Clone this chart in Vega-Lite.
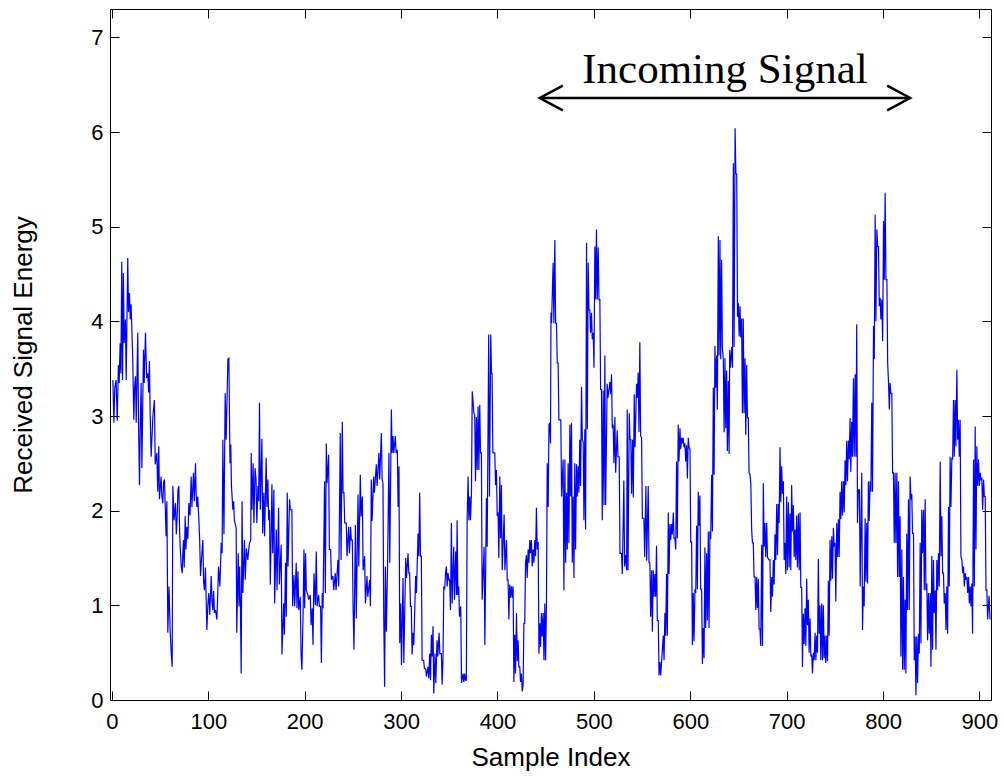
{
"$schema": "https://vega.github.io/schema/vega-lite/v6.json",
"width": 881, "height": 691,
"autosize": "none",
"padding": {"left": 110, "top": 9, "right": 13, "bottom": 76},
"background": "white",
"config": {
 "view": {"stroke": "#000000", "strokeWidth": 1},
 "axis": {"domain": false, "grid": false, "tickColor": "#000000", "tickSize": -9, "tickWidth": 1,
  "labelFont": "Liberation Sans", "labelFontSize": 22, "labelColor": "#000000",
  "titleFont": "Liberation Sans", "titleFontSize": 26, "titleFontWeight": "normal", "titleColor": "#000000"}
},
"datasets": {
 "sig": [
{"sample":1,"energy":3.38},{"sample":2,"energy":2.93},{"sample":3,"energy":3.3},{"sample":4.3,"energy":3.38},{"sample":5.5,"energy":2.95},{"sample":6.7,"energy":3.54},{"sample":7.5,"energy":3.35},{"sample":8.5,"energy":3.77},{"sample":9.3,"energy":3.45},{"sample":10.2,"energy":4.63},{"sample":11,"energy":3.38},{"sample":11.9,"energy":4.51},{"sample":12.7,"energy":3.77},{"sample":14,"energy":4.02},{"sample":14.8,"energy":3.38},{"sample":16.4,"energy":4.67},{"sample":17.2,"energy":4.1},{"sample":18.2,"energy":4.3},{"sample":19,"energy":4.02},{"sample":19.9,"energy":4.18},{"sample":21.6,"energy":3.6},{"sample":22.7,"energy":2.96},{"sample":23.5,"energy":3.3},{"sample":24.4,"energy":3.42},{"sample":25.2,"energy":2.93},{"sample":26.8,"energy":3.88},{"sample":27.6,"energy":2.93},{"sample":28.6,"energy":2.27},{"sample":29.4,"energy":2.9},{"sample":30.3,"energy":3.35},{"sample":31.1,"energy":2.45},{"sample":32.7,"energy":3.7},{"sample":33.5,"energy":3.35},{"sample":34.8,"energy":3.88},{"sample":36,"energy":3.4},{"sample":37.2,"energy":3.45},{"sample":38.1,"energy":3.25},{"sample":38.9,"energy":3.58},{"sample":39.7,"energy":3.01},{"sample":40.7,"energy":2.57},{"sample":42.5,"energy":3.0},{"sample":44.1,"energy":3.17},{"sample":44.9,"energy":2.49},{"sample":46.6,"energy":2.61},{"sample":47.5,"energy":2.2},{"sample":48.6,"energy":2.68},{"sample":49.3,"energy":2.12},{"sample":51,"energy":2.36},{"sample":51.8,"energy":2.15},{"sample":52.8,"energy":2.08},{"sample":53.6,"energy":2.3},{"sample":54.5,"energy":2.33},{"sample":55.3,"energy":2.05},{"sample":56.2,"energy":1.73},{"sample":57,"energy":2.1},{"sample":58,"energy":0.71},{"sample":59.2,"energy":1.2},{"sample":60.4,"energy":0.74},{"sample":61.5,"energy":0.5},{"sample":62.5,"energy":0.35},{"sample":63.2,"energy":2.26},{"sample":64.5,"energy":1.9},{"sample":65.9,"energy":2.08},{"sample":66.8,"energy":1.75},{"sample":67.7,"energy":1.94},{"sample":68.5,"energy":2.22},{"sample":69.4,"energy":2.26},{"sample":70.2,"energy":1.8},{"sample":70.8,"energy":1.62},{"sample":72,"energy":1.4},{"sample":72.9,"energy":1.34},{"sample":73.6,"energy":1.55},{"sample":74.2,"energy":1.69},{"sample":75,"energy":1.4},{"sample":76,"energy":1.94},{"sample":76.8,"energy":1.59},{"sample":77.7,"energy":1.83},{"sample":78.8,"energy":1.7},{"sample":79.8,"energy":2.08},{"sample":81,"energy":1.95},{"sample":82.2,"energy":2.36},{"sample":83,"energy":2.04},{"sample":84.6,"energy":2.4},{"sample":85.5,"energy":2.1},{"sample":86.7,"energy":2.5},{"sample":87.3,"energy":2.2},{"sample":88.1,"energy":2.04},{"sample":89,"energy":2.15},{"sample":90.2,"energy":1.9},{"sample":91,"energy":1.7},{"sample":91.9,"energy":1.31},{"sample":93,"energy":1.5},{"sample":94.3,"energy":1.69},{"sample":95.1,"energy":1.25},{"sample":96,"energy":1.16},{"sample":97,"energy":1.4},{"sample":98.5,"energy":0.74},{"sample":99.5,"energy":1.0},{"sample":100.5,"energy":1.13},{"sample":101.5,"energy":0.9},{"sample":103,"energy":1.31},{"sample":103.8,"energy":1.05},{"sample":104.7,"energy":0.95},{"sample":105.5,"energy":1.15},{"sample":106.4,"energy":0.92},{"sample":107.5,"energy":0.95},{"sample":108.9,"energy":0.85},{"sample":109.7,"energy":1.1},{"sample":110.6,"energy":1.41},{"sample":112,"energy":1.2},{"sample":113.4,"energy":1.66},{"sample":114.3,"energy":1.55},{"sample":115.1,"energy":2.75},{"sample":116.2,"energy":1.75},{"sample":117.5,"energy":3.24},{"sample":118.5,"energy":2.75},{"sample":120.3,"energy":3.6},
{"sample":121.3,"energy":3.61},{"sample":122.5,"energy":2.5},{"sample":123.3,"energy":2.7},{"sample":124,"energy":2.26},{"sample":125.5,"energy":2.01},{"sample":126.3,"energy":2.1},{"sample":127,"energy":1.9},{"sample":128.9,"energy":1.82},{"sample":129.5,"energy":0.71},{"sample":131,"energy":1.55},{"sample":131.8,"energy":0.99},{"sample":132.5,"energy":1.41},{"sample":133.3,"energy":1.0},{"sample":134.1,"energy":0.28},{"sample":135,"energy":2.1},{"sample":135.8,"energy":1.13},{"sample":137.5,"energy":1.69},{"sample":138.3,"energy":1.27},{"sample":139.5,"energy":1.6},{"sample":141,"energy":1.48},{"sample":142,"energy":1.6},{"sample":142.8,"energy":1.66},{"sample":144,"energy":1.69},{"sample":144.5,"energy":2.61},{"sample":145.3,"energy":2.01},{"sample":146.5,"energy":2.5},{"sample":147.3,"energy":1.87},{"sample":148.5,"energy":2.45},{"sample":149.5,"energy":2.33},{"sample":150.3,"energy":1.87},{"sample":151.5,"energy":2.26},{"sample":152.3,"energy":2.1},{"sample":153.1,"energy":3.14},{"sample":154,"energy":2.01},{"sample":155.6,"energy":2.76},{"sample":156.4,"energy":1.76},{"sample":157.6,"energy":2.19},{"sample":158.4,"energy":1.73},{"sample":160,"energy":2.56},{"sample":160.8,"energy":2.04},{"sample":161.8,"energy":2.33},{"sample":162.6,"energy":1.9},{"sample":163.5,"energy":2.01},{"sample":164.3,"energy":1.22},{"sample":166,"energy":2.28},{"sample":166.8,"energy":1.55},{"sample":168,"energy":2.22},{"sample":168.8,"energy":1.02},{"sample":170.5,"energy":1.8},{"sample":171.3,"energy":1.16},{"sample":172.9,"energy":2.03},{"sample":173.7,"energy":1.22},{"sample":175.6,"energy":1.64},{"sample":176.4,"energy":0.48},{"sample":178.1,"energy":1.02},{"sample":178.9,"energy":0.69},{"sample":180.1,"energy":1.45},{"sample":180.9,"energy":0.88},{"sample":181.9,"energy":2.19},{"sample":182.7,"energy":1.41},{"sample":184.3,"energy":2.12},{"sample":185.1,"energy":2.01},{"sample":186.7,"energy":2.01},{"sample":187.5,"energy":0.99},{"sample":188.8,"energy":1.32},{"sample":189.6,"energy":0.99},{"sample":191.2,"energy":1.45},{"sample":192,"energy":0.97},{"sample":193,"energy":1.36},{"sample":193.8,"energy":0.95},{"sample":195.4,"energy":1.09},{"sample":196.2,"energy":0.49},{"sample":197.1,"energy":0.32},{"sample":198.3,"energy":0.9},{"sample":199.2,"energy":1.59},{"sample":200,"energy":0.97},{"sample":200.9,"energy":1.55},{"sample":201.7,"energy":1.16},{"sample":203.3,"energy":1.11},{"sample":204.1,"energy":1.06},{"sample":205.8,"energy":1.11},{"sample":206.6,"energy":0.79},{"sample":207.8,"energy":0.97},{"sample":208.6,"energy":0.58},{"sample":209.6,"energy":1.34},{"sample":211,"energy":1.0},{"sample":212,"energy":1.57},{"sample":212.8,"energy":0.99},{"sample":214.4,"energy":1.11},{"sample":215.2,"energy":0.99},{"sample":216.5,"energy":0.99},{"sample":217.3,"energy":0.39},{"sample":218.2,"energy":1.13},{"sample":219,"energy":0.97},{"sample":220.6,"energy":2.31},{"sample":221.4,"energy":1.13},{"sample":222.4,"energy":2.71},{"sample":223.2,"energy":2.29},{"sample":224.8,"energy":2.59},{"sample":225.6,"energy":1.59},{"sample":226.9,"energy":1.59},{"sample":227.7,"energy":1.27},{"sample":229.3,"energy":1.31},{"sample":230.1,"energy":1.16},{"sample":231.7,"energy":1.34},{"sample":232.5,"energy":1.16},{"sample":234.5,"energy":1.48},{"sample":235.3,"energy":1.2},{"sample":236.9,"energy":2.82},{"sample":237.7,"energy":1.48},{"sample":239,"energy":2.94},{"sample":239.8,"energy":2.19},{"sample":240.7,"energy":2.19},{"sample":241.5,"energy":1.87},{"sample":243.1,"energy":1.87},{"sample":243.9,"energy":1.52},{"sample":245.6,"energy":1.83},{"sample":246.4,"energy":1.55},{"sample":247.6,"energy":1.83},{"sample":248.4,"energy":1.69},{"sample":249.4,"energy":1.69},{"sample":250.2,"energy":0.97},{"sample":251.1,"energy":0.53},
{"sample":252.6,"energy":1.85},{"sample":253.5,"energy":0.86},{"sample":255.3,"energy":2.17},{"sample":256.1,"energy":1.41},{"sample":257.7,"energy":2.38},{"sample":258.5,"energy":1.94},{"sample":259.8,"energy":2.15},{"sample":260.6,"energy":1.37},{"sample":262.2,"energy":1.52},{"sample":263,"energy":1.02},{"sample":264.6,"energy":1.31},{"sample":265.4,"energy":1.09},{"sample":267.4,"energy":1.27},{"sample":268.2,"energy":0.99},{"sample":269.1,"energy":2.33},{"sample":269.9,"energy":1.89},{"sample":271.5,"energy":2.36},{"sample":272.3,"energy":2.19},{"sample":274.3,"energy":2.49},{"sample":275.1,"energy":2.26},{"sample":277,"energy":2.61},{"sample":277.8,"energy":2.33},{"sample":279.5,"energy":2.82},{"sample":280.3,"energy":2.33},{"sample":281.2,"energy":2.29},{"sample":282,"energy":0.88},{"sample":282.9,"energy":0.14},{"sample":283.7,"energy":1.41},{"sample":284.7,"energy":0.72},{"sample":286,"energy":1.45},{"sample":287.4,"energy":2.61},{"sample":288.2,"energy":1.45},{"sample":289.9,"energy":3.07},{"sample":290.7,"energy":2.61},{"sample":291.6,"energy":2.79},{"sample":292.4,"energy":2.61},{"sample":294,"energy":2.79},{"sample":294.8,"energy":2.61},{"sample":296.1,"energy":2.64},{"sample":296.9,"energy":2.04},{"sample":297.8,"energy":2.47},{"sample":298.6,"energy":0.6},{"sample":299.6,"energy":1.02},{"sample":300.4,"energy":0.37},{"sample":302,"energy":1.29},{"sample":302.8,"energy":0.39},{"sample":304.8,"energy":1.5},{"sample":305.6,"energy":1.29},{"sample":307.2,"energy":1.55},{"sample":308,"energy":1.34},{"sample":308.9,"energy":1.34},{"sample":309.7,"energy":0.99},{"sample":310.6,"energy":0.99},{"sample":311.4,"energy":0.48},{"sample":312.4,"energy":0.71},{"sample":313.2,"energy":0.58},{"sample":315.1,"energy":1.31},{"sample":315.9,"energy":1.13},{"sample":317.6,"energy":1.76},{"sample":318.4,"energy":1.52},{"sample":319.3,"energy":2.19},{"sample":320.1,"energy":1.52},{"sample":321,"energy":1.52},{"sample":321.8,"energy":0.42},{"sample":323.4,"energy":0.42},{"sample":324.2,"energy":0.33},{"sample":325.5,"energy":0.33},{"sample":326.3,"energy":0.25},{"sample":327.9,"energy":0.35},{"sample":328.7,"energy":0.23},{"sample":329.7,"energy":0.49},{"sample":330.5,"energy":0.21},{"sample":331.4,"energy":0.69},{"sample":332.2,"energy":0.46},{"sample":333.1,"energy":0.78},{"sample":333.9,"energy":0.07},{"sample":335.2,"energy":0.49},{"sample":336,"energy":0.18},{"sample":337.3,"energy":0.63},{"sample":338.1,"energy":0.46},{"sample":339.4,"energy":0.71},{"sample":340.2,"energy":0.49},{"sample":341.8,"energy":0.49},{"sample":342.6,"energy":0.16},{"sample":343.5,"energy":0.46},{"sample":344.3,"energy":1.2},{"sample":345.3,"energy":1.18},{"sample":346.1,"energy":1.34},{"sample":347,"energy":1.41},{"sample":347.8,"energy":1.2},{"sample":348.7,"energy":1.34},{"sample":349.5,"energy":1.27},{"sample":350.4,"energy":1.27},{"sample":351.2,"energy":0.95},{"sample":352.2,"energy":1.87},{"sample":353,"energy":1.02},{"sample":354.6,"energy":1.62},{"sample":355.4,"energy":1.06},{"sample":356.7,"energy":1.57},{"sample":357.5,"energy":1.11},{"sample":358.1,"energy":1.9},{"sample":358.9,"energy":1.11},{"sample":359.8,"energy":1.2},{"sample":360.6,"energy":0.88},{"sample":361.9,"energy":0.99},{"sample":362.7,"energy":0.18},{"sample":364.3,"energy":0.28},{"sample":365.1,"energy":0.19},{"sample":366,"energy":0.28},{"sample":366.8,"energy":0.21},{"sample":367.7,"energy":0.21},{"sample":368.5,"energy":1.9},{"sample":369.5,"energy":2.36},{"sample":370.3,"energy":1.9},{"sample":371.2,"energy":2.15},{"sample":372,"energy":1.9},{"sample":373,"energy":2.19},{"sample":373.8,"energy":3.26},{"sample":374.7,"energy":3.15},{"sample":375.5,"energy":3.03},{"sample":376.4,"energy":3.01},{"sample":377.2,"energy":2.31},{"sample":378.1,"energy":2.99},{"sample":378.9,"energy":2.43},{"sample":379.9,"energy":3.1},{"sample":380.7,"energy":2.43},
{"sample":381.6,"energy":3.12},{"sample":382.4,"energy":2.61},{"sample":383.3,"energy":2.61},{"sample":384.1,"energy":1.06},{"sample":386.1,"energy":1.62},{"sample":386.9,"energy":0.58},{"sample":388.5,"energy":2.13},{"sample":389.3,"energy":1.62},{"sample":390.9,"energy":3.86},{"sample":391.7,"energy":2.15},{"sample":393,"energy":3.86},{"sample":393.8,"energy":3.45},{"sample":394.4,"energy":3.45},{"sample":395.2,"energy":2.61},{"sample":397.2,"energy":2.61},{"sample":398,"energy":2.27},{"sample":398.9,"energy":2.43},{"sample":399.7,"energy":1.96},{"sample":400.6,"energy":1.97},{"sample":401.4,"energy":1.5},{"sample":402.4,"energy":2.36},{"sample":403.2,"energy":1.71},{"sample":404.1,"energy":2.27},{"sample":404.9,"energy":1.37},{"sample":406.9,"energy":1.96},{"sample":407.7,"energy":1.37},{"sample":409.3,"energy":1.69},{"sample":410.1,"energy":1.27},{"sample":411,"energy":1.27},{"sample":411.8,"energy":0.85},{"sample":412.7,"energy":1.22},{"sample":413.5,"energy":1.08},{"sample":414.5,"energy":1.2},{"sample":415.3,"energy":1.08},{"sample":416.2,"energy":1.2},{"sample":417,"energy":0.19},{"sample":417.9,"energy":0.69},{"sample":418.7,"energy":0.28},{"sample":419.7,"energy":0.92},{"sample":420.5,"energy":0.41},{"sample":421.4,"energy":0.63},{"sample":422.2,"energy":0.35},{"sample":423.1,"energy":0.35},{"sample":423.9,"energy":0.19},{"sample":424.9,"energy":0.28},{"sample":425.7,"energy":0.09},{"sample":426.6,"energy":0.16},{"sample":427.4,"energy":0.81},{"sample":428.3,"energy":0.81},{"sample":429.1,"energy":1.45},{"sample":430,"energy":1.53},{"sample":430.8,"energy":1.29},{"sample":431.8,"energy":1.59},{"sample":432.6,"energy":1.45},{"sample":433.5,"energy":1.69},{"sample":434.3,"energy":1.55},{"sample":435.2,"energy":1.69},{"sample":436,"energy":1.41},{"sample":437,"energy":1.59},{"sample":437.8,"energy":1.45},{"sample":438.7,"energy":1.69},{"sample":439.5,"energy":1.52},{"sample":440.4,"energy":2.03},{"sample":441.2,"energy":1.59},{"sample":442.2,"energy":1.67},{"sample":443,"energy":0.49},{"sample":443.9,"energy":0.81},{"sample":444.7,"energy":0.56},{"sample":445.6,"energy":0.92},{"sample":446.4,"energy":0.67},{"sample":447.4,"energy":0.92},{"sample":448.2,"energy":0.42},{"sample":449.1,"energy":1.02},{"sample":449.9,"energy":0.42},{"sample":450.8,"energy":1.02},{"sample":451.6,"energy":2.5},{"sample":452.6,"energy":2.04},{"sample":453.4,"energy":2.91},{"sample":454.3,"energy":2.93},{"sample":455,"energy":2.71},{"sample":455.5,"energy":4.09},{"sample":456.1,"energy":3.98},{"sample":457.7,"energy":4.62},{"sample":458.5,"energy":3.98},{"sample":459.5,"energy":4.86},{"sample":460.3,"energy":3.98},{"sample":461.2,"energy":3.98},{"sample":462,"energy":3.56},{"sample":462.9,"energy":3.56},{"sample":463.7,"energy":2.96},{"sample":465.7,"energy":2.96},{"sample":466.5,"energy":2.15},{"sample":468.1,"energy":2.54},{"sample":468.9,"energy":1.16},{"sample":469.9,"energy":2.54},{"sample":470.7,"energy":1.45},{"sample":471.6,"energy":2.19},{"sample":472.4,"energy":1.59},{"sample":473.3,"energy":2.5},{"sample":474.1,"energy":1.66},{"sample":475.1,"energy":2.91},{"sample":475.9,"energy":2.15},{"sample":476.8,"energy":2.93},{"sample":477.6,"energy":1.45},{"sample":478.5,"energy":2.15},{"sample":479.3,"energy":1.29},{"sample":480.2,"energy":2.5},{"sample":481,"energy":1.59},{"sample":482,"energy":2.49},{"sample":482.8,"energy":2.15},{"sample":483.7,"energy":2.47},{"sample":484.5,"energy":2.19},{"sample":485.4,"energy":2.75},{"sample":486.2,"energy":2.26},{"sample":487.2,"energy":3.31},{"sample":488,"energy":2.75},{"sample":488.9,"energy":2.73},{"sample":489.7,"energy":1.9},{"sample":490.6,"energy":2.86},{"sample":491.4,"energy":1.8},{"sample":492.4,"energy":4.83},{"sample":493.2,"energy":2.86},{"sample":494.1,"energy":4.62},{"sample":494.9,"energy":4.12},{"sample":495.8,"energy":4.12},{"sample":496.6,"energy":3.88},{"sample":497.5,"energy":4.09},{"sample":498.3,"energy":3.81},{"sample":499.3,"energy":3.88},{"sample":500.1,"energy":3.51},{"sample":501,"energy":4.79},{"sample":501.8,"energy":4.23},{"sample":502.7,"energy":4.97},{"sample":503.5,"energy":4.23},{"sample":504.5,"energy":4.78},{"sample":505.3,"energy":4.23},{"sample":506.2,"energy":4.23},{"sample":507,"energy":3.28},{"sample":507.9,"energy":3.28},{"sample":508.7,"energy":1.9},{"sample":509.7,"energy":3.27},{"sample":510.5,"energy":2.06},{"sample":511.4,"energy":3.64},{"sample":512.2,"energy":2.06},{"sample":513.8,"energy":3.34},{"sample":514.6,"energy":3.19},{"sample":516.6,"energy":3.36},{"sample":517.4,"energy":3.23},{"sample":518.3,"energy":3.44},{"sample":519.1,"energy":2.87},{"sample":520,"energy":2.91},{"sample":520.8,"energy":2.5},{"sample":521.8,"energy":2.99},{"sample":522.6,"energy":2.4},{"sample":524.2,"energy":2.85},{"sample":525,"energy":2.57},{"sample":526.3,"energy":2.57},{"sample":527.1,"energy":1.55},{"sample":528.7,"energy":1.55},{"sample":529.5,"energy":1.33},{"sample":531.1,"energy":2.32},{"sample":531.9,"energy":1.41},{"sample":533.2,"energy":1.53},{"sample":534,"energy":1.37},{"sample":534.6,"energy":3.07},{"sample":535.4,"energy":1.37},{"sample":536.7,"energy":3.03},{"sample":537.5,"energy":2.75},{"sample":538.3,"energy":2.75},{"sample":539.1,"energy":2.18},{"sample":540.1,"energy":2.75},{"sample":540.9,"energy":2.14},{"sample":541.9,"energy":3.23},{"sample":542.7,"energy":2.67},{"sample":544.3,"energy":3.34},{"sample":545.1,"energy":3.19},{"sample":546,"energy":3.46},{"sample":546.8,"energy":2.83},{"sample":547.7,"energy":3.78},{"sample":548.5,"energy":2.79},{"sample":549.5,"energy":2.77},{"sample":550.3,"energy":1.92},{"sample":551.9,"energy":1.92},{"sample":552.7,"energy":1.51},{"sample":554,"energy":2.26},{"sample":554.8,"energy":1.47},{"sample":556.4,"energy":2.26},{"sample":557.2,"energy":1.45},{"sample":558.1,"energy":1.45},{"sample":558.9,"energy":0.88},{"sample":559.9,"energy":1.37},{"sample":560.7,"energy":0.72},{"sample":561.6,"energy":1.37},{"sample":562.4,"energy":1.09},{"sample":563.3,"energy":1.33},{"sample":564.1,"energy":1.09},{"sample":565,"energy":1.63},{"sample":565.8,"energy":0.84},{"sample":566.8,"energy":0.84},{"sample":567.6,"energy":0.26},{"sample":568.5,"energy":0.4},{"sample":569.3,"energy":0.26},{"sample":570.2,"energy":0.4},{"sample":572,"energy":0.68},{"sample":572.8,"energy":0.42},{"sample":573.7,"energy":0.92},{"sample":574.5,"energy":0.68},{"sample":575.4,"energy":1.33},{"sample":576.2,"energy":0.68},{"sample":577.2,"energy":1.98},{"sample":578,"energy":1.33},{"sample":578.9,"energy":1.86},{"sample":579.7,"energy":1.69},{"sample":580.6,"energy":1.86},{"sample":581.4,"energy":1.75},{"sample":582.4,"energy":1.98},{"sample":583.2,"energy":1.71},{"sample":584.1,"energy":1.71},{"sample":584.9,"energy":1.59},{"sample":585.8,"energy":2.52},{"sample":586.6,"energy":1.71},{"sample":587.5,"energy":2.91},{"sample":588.3,"energy":2.52},{"sample":589.3,"energy":2.87},{"sample":590.1,"energy":2.65},{"sample":591,"energy":2.77},{"sample":591.8,"energy":2.71},{"sample":592.7,"energy":2.77},{"sample":593.5,"energy":2.67},{"sample":594.5,"energy":2.71},{"sample":595.3,"energy":2.52},{"sample":596.2,"energy":2.69},{"sample":597,"energy":2.34},{"sample":597.9,"energy":2.77},{"sample":598.7,"energy":2.67},{"sample":599.7,"energy":2.65},{"sample":600.5,"energy":1.67},{"sample":601.4,"energy":1.67},{"sample":602.2,"energy":0.58},{"sample":603.1,"energy":1.13},{"sample":603.9,"energy":0.62},{"sample":604.9,"energy":1.17},{"sample":605.7,"energy":1.13},{"sample":606.6,"energy":1.84},{"sample":607.4,"energy":1.17},{"sample":608.3,"energy":2.2},{"sample":609.1,"energy":1.84},{"sample":610,"energy":2.16},{"sample":610.8,"energy":1.17},{"sample":611.8,"energy":1.17},{"sample":612.6,"energy":0.38},{"sample":613.5,"energy":0.76},{"sample":614.3,"energy":0.44},{"sample":615.2,"energy":1.61},{"sample":616,"energy":0.76},{"sample":617,"energy":1.55},{"sample":617.8,"energy":0.84},{"sample":618.7,"energy":1.78},{"sample":619.5,"energy":0.76},{"sample":620.4,"energy":1.78},{"sample":621.2,"energy":1.7},{"sample":622.2,"energy":2.38},{"sample":623,"energy":1.78},{"sample":623.9,"energy":3.3},{"sample":624.7,"energy":2.38},{"sample":625.6,"energy":3.74},{"sample":626.4,"energy":3.3},{"sample":627.3,"energy":3.64},{"sample":628.1,"energy":3.07},{"sample":629.1,"energy":4.9},{"sample":629.9,"energy":3.64},{"sample":630.8,"energy":4.86},{"sample":631.6,"energy":3.6},{"sample":632.5,"energy":4.65},{"sample":633.3,"energy":3.73},{"sample":634.3,"energy":3.6},{"sample":635.1,"energy":2.83},{"sample":636,"energy":3.61},{"sample":636.8,"energy":2.87},{"sample":637.7,"energy":3.48},{"sample":638.5,"energy":2.63},{"sample":639.5,"energy":3.37},{"sample":640.3,"energy":2.6},{"sample":640.9,"energy":3.7},{"sample":641.7,"energy":3.51},{"sample":643,"energy":3.73},{"sample":643.8,"energy":3.51},{"sample":644.7,"energy":5.67},{"sample":645.5,"energy":3.73},{"sample":646.5,"energy":6.04},{"sample":647.3,"energy":5.57},{"sample":648.2,"energy":5.55},{"sample":649,"energy":4.05},{"sample":649.9,"energy":4.19},{"sample":650.7,"energy":3.84},{"sample":651.6,"energy":4.16},{"sample":652.4,"energy":3.83},{"sample":653.3,"energy":4.03},{"sample":654.1,"energy":3.03},{"sample":655,"energy":4.03},{"sample":655.8,"energy":3.03},{"sample":656.8,"energy":3.61},{"sample":657.6,"energy":2.8},{"sample":658.5,"energy":3.54},{"sample":659.3,"energy":2.98},{"sample":660.2,"energy":2.98},{"sample":661,"energy":2.4},{"sample":662,"energy":2.38},{"sample":662.8,"energy":2.29},{"sample":663.7,"energy":1.8},{"sample":664.5,"energy":1.66},{"sample":665.4,"energy":1.66},{"sample":666.2,"energy":1.3},{"sample":667.2,"energy":1.3},{"sample":668,"energy":0.95},{"sample":668.9,"energy":1.3},{"sample":669.7,"energy":0.97},{"sample":670.6,"energy":1.28},{"sample":671.4,"energy":0.75},{"sample":672.3,"energy":0.75},{"sample":673.1,"energy":0.57},{"sample":674.1,"energy":1.64},{"sample":674.9,"energy":0.57},{"sample":675.8,"energy":2.29},{"sample":676.6,"energy":1.62},{"sample":677.5,"energy":1.87},{"sample":678.3,"energy":1.51},{"sample":679.3,"energy":1.87},{"sample":680.1,"energy":1.51},{"sample":681,"energy":1.49},{"sample":681.8,"energy":1.48},{"sample":682.7,"energy":1.48},{"sample":683.5,"energy":0.93},{"sample":684.5,"energy":1.3},{"sample":685.3,"energy":1.09},{"sample":686.2,"energy":1.48},{"sample":687,"energy":1.22},{"sample":687.9,"energy":1.75},{"sample":688.7,"energy":1.48},{"sample":689.7,"energy":2.07},{"sample":690.5,"energy":1.53},{"sample":691.4,"energy":2.07},{"sample":692.2,"energy":1.87},{"sample":693.1,"energy":2.67},{"sample":693.9,"energy":2.09},{"sample":694.8,"energy":2.47},{"sample":695.6,"energy":2.18},{"sample":696.6,"energy":2.31},{"sample":697.4,"energy":1.48},{"sample":698.3,"energy":1.66},{"sample":699.1,"energy":1.33},{"sample":700,"energy":2.15},{"sample":700.8,"energy":1.37},{"sample":701.8,"energy":2.09},{"sample":702.6,"energy":1.4},{"sample":703.5,"energy":1.97},{"sample":704.3,"energy":1.37},{"sample":705.2,"energy":2.27},{"sample":706,"energy":1.78},{"sample":707,"energy":2.06},{"sample":707.8,"energy":1.51},{"sample":708.7,"energy":1.8},{"sample":709.5,"energy":1.48},{"sample":710.4,"energy":1.95},{"sample":711.2,"energy":1.4},{"sample":712.2,"energy":1.97},{"sample":713,"energy":1.37},{"sample":713.9,"energy":1.98},{"sample":714.7,"energy":1.19},{"sample":715.6,"energy":1.19},{"sample":716.4,"energy":0.35},{"sample":717.3,"energy":0.91},{"sample":718.1,"energy":0.59},{"sample":719.1,"energy":0.97},{"sample":719.9,"energy":0.57},{"sample":720.8,"energy":1.28},{"sample":721.6,"energy":0.79},{"sample":722.5,"energy":1.06},{"sample":723.3,"energy":0.5},{"sample":724.3,"energy":0.86},{"sample":725.1,"energy":0.46},{"sample":726,"energy":0.48},{"sample":726.8,"energy":0.28},{"sample":727.7,"energy":0.5},{"sample":728.5,"energy":0.42},{"sample":729.5,"energy":0.71},{"sample":730.3,"energy":0.42},{"sample":731.2,"energy":0.68},{"sample":732,"energy":0.5},{"sample":732.9,"energy":1.49},{"sample":733.7,"energy":0.7},{"sample":734.6,"energy":1.0},{"sample":735.4,"energy":0.42},{"sample":736.4,"energy":1.02},{"sample":737.2,"energy":0.42},{"sample":738.1,"energy":1.0},{"sample":738.9,"energy":0.44},{"sample":739.8,"energy":0.68},{"sample":740.6,"energy":0.39},{"sample":741.6,"energy":0.68},{"sample":742.4,"energy":0.41},{"sample":743.3,"energy":1.26},{"sample":744.1,"energy":0.68},{"sample":745,"energy":1.69},{"sample":745.8,"energy":1.26},{"sample":746.8,"energy":1.73},{"sample":747.6,"energy":1.28},{"sample":748.5,"energy":1.82},{"sample":749.3,"energy":1.62},{"sample":750.2,"energy":1.66},{"sample":751,"energy":1.04},{"sample":752,"energy":1.87},{"sample":752.8,"energy":1.51},{"sample":753.7,"energy":1.91},{"sample":754.5,"energy":1.51},{"sample":755.4,"energy":2.2},{"sample":756.2,"energy":1.91},{"sample":757.1,"energy":2.31},{"sample":757.9,"energy":1.95},{"sample":758.9,"energy":2.31},{"sample":759.7,"energy":1.98},{"sample":760.6,"energy":2.53},{"sample":761.4,"energy":2.27},{"sample":762.3,"energy":2.74},{"sample":763.1,"energy":2.31},{"sample":764.1,"energy":2.74},{"sample":764.9,"energy":2.54},{"sample":765.8,"energy":2.98},{"sample":766.6,"energy":2.41},{"sample":767.5,"energy":2.94},{"sample":768.3,"energy":2.57},{"sample":769.3,"energy":3.4},{"sample":770.1,"energy":2.57},{"sample":771.1,"energy":3.44},{"sample":771.9,"energy":2.57},{"sample":772.7,"energy":3.97},{"sample":773.5,"energy":1.87},{"sample":774.3,"energy":2.22},{"sample":775.5,"energy":2.22},{"sample":776.3,"energy":1.2},{"sample":777.9,"energy":2.4},{"sample":778.7,"energy":0.74},{"sample":779.6,"energy":1.2},{"sample":780.4,"energy":0.99},{"sample":781.4,"energy":1.92},{"sample":782.2,"energy":1.25},{"sample":783.1,"energy":1.87},{"sample":783.9,"energy":1.23},{"sample":784.8,"energy":2.31},{"sample":785.6,"energy":1.89},{"sample":786.6,"energy":2.31},{"sample":787.4,"energy":2.2},{"sample":788.3,"energy":3.14},{"sample":789.1,"energy":2.2},{"sample":790.1,"energy":3.95},{"sample":790.9,"energy":3.6},{"sample":791.8,"energy":5.13},{"sample":792.6,"energy":4.0},{"sample":793.6,"energy":4.97},{"sample":794.4,"energy":4.79},{"sample":795.3,"energy":4.79},{"sample":796.1,"energy":4.16},{"sample":797,"energy":4.25},{"sample":797.8,"energy":4.02},{"sample":798.8,"energy":4.23},{"sample":799.6,"energy":3.79},{"sample":800.5,"energy":5.06},{"sample":801.3,"energy":4.44},{"sample":802.2,"energy":5.36},{"sample":803,"energy":4.44},{"sample":804,"energy":4.44},{"sample":804.8,"energy":3.56},{"sample":805.7,"energy":3.35},{"sample":806.5,"energy":3.07},{"sample":807.3,"energy":3.35},{"sample":808.1,"energy":3.24},{"sample":809.1,"energy":3.24},{"sample":809.9,"energy":2.4},{"sample":810.8,"energy":2.4},{"sample":811.6,"energy":1.66},{"sample":812.5,"energy":2.4},{"sample":813.3,"energy":1.66},{"sample":814.3,"energy":2.4},{"sample":815.1,"energy":1.3},{"sample":816,"energy":2.31},{"sample":816.8,"energy":1.3},{"sample":817.7,"energy":1.94},{"sample":818.5,"energy":0.46},{"sample":819.5,"energy":1.59},{"sample":820.3,"energy":0.32},{"sample":821.2,"energy":1.3},{"sample":822,"energy":0.32},{"sample":822.9,"energy":1.06},{"sample":823.7,"energy":0.28},{"sample":824.6,"energy":1.76},{"sample":825.4,"energy":0.95},{"sample":826.4,"energy":2.12},{"sample":827.2,"energy":0.95},{"sample":828.1,"energy":2.36},{"sample":828.9,"energy":2.12},{"sample":829.8,"energy":2.18},{"sample":830.6,"energy":1.76},{"sample":831.6,"energy":1.76},{"sample":832.4,"energy":0.42},{"sample":833.3,"energy":0.67},{"sample":834.1,"energy":0.05},{"sample":835,"energy":0.67},{"sample":835.8,"energy":0.18},{"sample":836.8,"energy":0.7},{"sample":837.6,"energy":0.49},{"sample":838.5,"energy":1.66},{"sample":839.3,"energy":0.6},{"sample":840.2,"energy":2.01},{"sample":841,"energy":1.55},{"sample":842,"energy":2.01},{"sample":842.8,"energy":1.16},{"sample":843.7,"energy":2.12},{"sample":844.5,"energy":1.16},{"sample":845.4,"energy":1.23},{"sample":846.2,"energy":0.63},{"sample":847.1,"energy":1.13},{"sample":847.9,"energy":0.7},{"sample":848.9,"energy":1.13},{"sample":849.7,"energy":0.35},{"sample":850.6,"energy":1.52},{"sample":851.4,"energy":0.53},{"sample":852.3,"energy":1.48},{"sample":853.1,"energy":0.92},{"sample":854.1,"energy":1.16},{"sample":854.9,"energy":0.53},{"sample":855.8,"energy":1.48},{"sample":856.6,"energy":1.16},{"sample":857.5,"energy":1.55},{"sample":858.3,"energy":1.2},{"sample":859.3,"energy":2.52},{"sample":860.1,"energy":1.52},{"sample":861,"energy":1.94},{"sample":861.8,"energy":1.34},{"sample":862.7,"energy":1.34},{"sample":863.5,"energy":1.02},{"sample":864.5,"energy":1.13},{"sample":865.3,"energy":0.74},{"sample":866.2,"energy":1.2},{"sample":867,"energy":0.7},{"sample":867.9,"energy":2.04},{"sample":868.7,"energy":1.2},{"sample":869.6,"energy":2.57},{"sample":870.4,"energy":2.04},{"sample":871.4,"energy":2.56},{"sample":872.2,"energy":2.54},{"sample":873.1,"energy":3.17},{"sample":873.9,"energy":2.57},{"sample":874.8,"energy":3.17},{"sample":875.6,"energy":2.68},{"sample":876.6,"energy":3.49},{"sample":877.4,"energy":2.75},{"sample":878.3,"energy":2.96},{"sample":879.1,"energy":2.57},{"sample":880,"energy":2.96},{"sample":880.8,"energy":1.52},{"sample":881.8,"energy":1.48},{"sample":882.6,"energy":1.34},{"sample":883.5,"energy":1.41},{"sample":884.3,"energy":1.2},{"sample":885.2,"energy":1.34},{"sample":886,"energy":1.27},{"sample":887,"energy":1.3},{"sample":887.8,"energy":1.13},{"sample":888.7,"energy":1.3},{"sample":889.5,"energy":1.02},{"sample":890.4,"energy":1.2},{"sample":891.2,"energy":0.99},{"sample":892.1,"energy":1.23},{"sample":892.9,"energy":0.7},{"sample":893.9,"energy":2.54},{"sample":894.7,"energy":1.2},{"sample":895.6,"energy":2.89},{"sample":896.4,"energy":1.59},{"sample":897.3,"energy":2.68},{"sample":898.1,"energy":2.26},{"sample":899.1,"energy":2.54},{"sample":899.9,"energy":2.26},{"sample":900.8,"energy":2.4},{"sample":901.6,"energy":2.33},{"sample":902.5,"energy":2.34},{"sample":903.3,"energy":2.01},{"sample":904.3,"energy":2.33},{"sample":905.1,"energy":2.15},{"sample":906,"energy":2.15},{"sample":906.8,"energy":1.16},{"sample":907.7,"energy":1.16},{"sample":908.5,"energy":0.85},{"sample":910,"energy":1.1},{"sample":911,"energy":0.85}
 ],
 "arrow": [
  {"part":"shaft","x":443.9,"y":6.36,"o":0},{"part":"shaft","x":828.1,"y":6.36,"o":1},
  {"part":"left","x":467.8,"y":6.49,"o":0},{"part":"left","x":443.9,"y":6.36,"o":1},{"part":"left","x":467.8,"y":6.23,"o":2},
  {"part":"right","x":804.3,"y":6.49,"o":0},{"part":"right","x":828.1,"y":6.36,"o":1},{"part":"right","x":804.3,"y":6.23,"o":2}
 ],
 "note": [{"x":636,"y":6.52,"label":"Incoming Signal"}]
},
"layer": [
 {
  "data": {"name": "sig"},
  "mark": {"type": "line", "color": "#0000ff", "strokeWidth": 1.2, "clip": true},
  "encoding": {
   "x": {"field": "sample", "type": "quantitative", "scale": {"domain": [-2, 912], "nice": false, "zero": false},
     "axis": {"orient": "bottom", "values": [0,100,200,300,400,500,600,700,800,900], "labelPadding": 20, "title": "Sample Index", "titlePadding": 12}},
   "y": {"field": "energy", "type": "quantitative", "scale": {"domain": [0, 7.3], "nice": false, "zero": false},
     "axis": {"orient": "left", "values": [0,1,2,3,4,5,6,7], "labelPadding": 16, "title": "Received Signal Energy", "titlePadding": 54}}
  }
 },
 {
  "data": {"name": "arrow"},
  "mark": {"type": "line", "color": "#000000", "strokeWidth": 2.5},
  "encoding": {
   "x": {"field": "x", "type": "quantitative", "axis": {"orient": "top", "values": [0,100,200,300,400,500,600,700,800,900], "labels": false, "title": null}},
   "y": {"field": "y", "type": "quantitative", "axis": {"orient": "right", "values": [0,1,2,3,4,5,6,7], "labels": false, "title": null}},
   "detail": {"field": "part"},
   "order": {"field": "o"}
  }
 },
 {
  "data": {"name": "note"},
  "mark": {"type": "text", "font": "Liberation Serif", "fontSize": 43, "color": "#000000", "align": "center", "baseline": "alphabetic"},
  "encoding": {
   "x": {"field": "x", "type": "quantitative", "axis": null},
   "y": {"field": "y", "type": "quantitative", "axis": null},
   "text": {"field": "label"}
  }
 }
],
"resolve": {"axis": {"x": "independent", "y": "independent"}}
}
